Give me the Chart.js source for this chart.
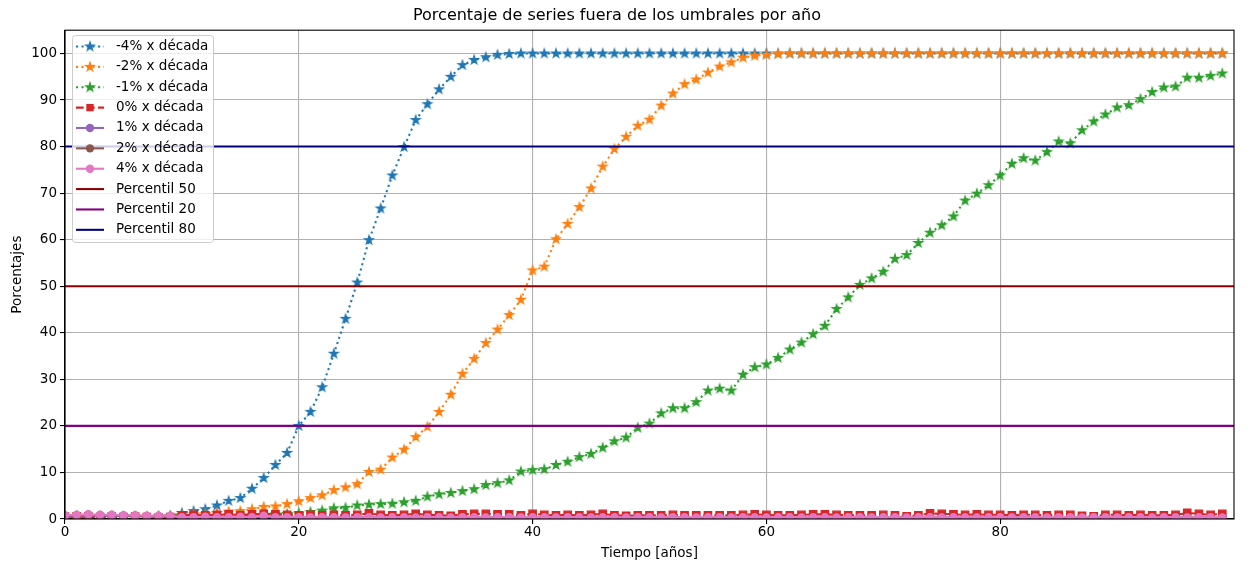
<!DOCTYPE html>
<html lang="es">
<head>
<meta charset="utf-8">
<title>Porcentaje de series fuera de los umbrales por año</title>
<script src="https://cdn.jsdelivr.net/npm/chart.js@4.4.1/dist/chart.umd.min.js"></script>
<style>
    body { margin: 0; background: #ffffff; }
    #contenedor { width: 1253px; height: 564px; }
</style>
</head>
<body>
<div id="contenedor"><canvas id="grafico-umbrales" width="1253" height="564"></canvas></div>
<script>
// Años (eje x)
const anios = Array.from({ length: 100 }, (_, i) => i);

// Porcentaje de series fuera de los umbrales por tendencia
const serieMenos4 = [
    0.5, 0.6, 0.6, 0.5, 0.6, 0.5, 0.5, 0.4, 0.5, 0.6,
    1.3, 1.7, 2.1, 2.9, 3.9, 4.5, 6.5, 8.8, 11.6, 14.2,
    20.0, 23.0, 28.3, 35.5, 43.0, 50.8, 59.9, 66.7, 73.8, 79.9,
    85.7, 89.1, 92.3, 95.0, 97.5, 98.6, 99.2, 99.7, 99.9, 100,
    100, 100, 100, 100, 100, 100, 100, 100, 100, 100,
    100, 100, 100, 100, 100, 100, 100, 100, 100, 100,
    100, 100, 100, 100, 100, 100, 100, 100, 100, 100,
    100, 100, 100, 100, 100, 100, 100, 100, 100, 100,
    100, 100, 100, 100, 100, 100, 100, 100, 100, 100,
    100, 100, 100, 100, 100, 100, 100, 100, 100, 100
];
const serieMenos2 = [
    0.4, 0.5, 0.5, 0.4, 0.5, 0.4, 0.5, 0.4, 0.5, 0.6,
    0.8, 1.0, 1.1, 1.3, 1.6, 1.7, 2.1, 2.6, 2.7, 3.2,
    3.8, 4.5, 5.1, 6.2, 6.8, 7.5, 10.1, 10.6, 13.2, 14.9,
    17.6, 19.8, 23.0, 26.7, 31.2, 34.4, 37.8, 40.7, 43.8, 47.1,
    53.4, 54.2, 60.1, 63.4, 67.0, 71.0, 75.7, 79.5, 82.1, 84.5,
    85.8, 88.8, 91.4, 93.4, 94.4, 95.9, 97.2, 98.1, 99.1, 99.5,
    99.7, 99.9, 100, 100, 100, 100, 100, 100, 100, 100,
    100, 100, 100, 100, 100, 100, 100, 100, 100, 100,
    100, 100, 100, 100, 100, 100, 100, 100, 100, 100,
    100, 100, 100, 100, 100, 100, 100, 100, 100, 100
];
const serieMenos1 = [
    0.4, 0.5, 0.4, 0.5, 0.4, 0.5, 0.4, 0.4, 0.5, 0.5,
    0.6, 0.6, 0.7, 0.6, 0.7, 0.8, 0.8, 0.9, 1.0, 1.1,
    1.2, 1.5, 1.8, 2.3, 2.4, 2.9, 3.1, 3.2, 3.3, 3.6,
    3.9, 4.8, 5.3, 5.6, 6.0, 6.4, 7.3, 7.7, 8.3, 10.2,
    10.5, 10.7, 11.6, 12.3, 13.3, 14.0, 15.3, 16.7, 17.5, 19.6,
    20.5, 22.7, 23.8, 23.8, 25.1, 27.6, 28.0, 27.6, 31.0, 32.6,
    33.2, 34.6, 36.4, 37.9, 39.7, 41.5, 45.1, 47.6, 50.3, 51.7,
    53.1, 55.9, 56.7, 59.3, 61.5, 63.1, 65.0, 68.4, 69.9, 71.7,
    73.8, 76.3, 77.5, 77.0, 78.8, 81.1, 80.7, 83.5, 85.4, 86.9,
    88.4, 88.9, 90.2, 91.7, 92.7, 92.9, 94.8, 94.8, 95.2, 95.7
];
const serie0 = [
    0.5, 0.6, 0.5, 0.4, 0.5, 0.4, 0.5, 0.4, 0.3, 0.4,
    0.8, 0.9, 0.8, 0.9, 1.0, 0.8, 1.0, 1.1, 1.0, 0.9,
    0.8, 0.9, 0.8, 0.9, 0.8, 0.9, 1.2, 0.9, 0.8, 0.9,
    1.1, 0.9, 0.8, 0.7, 1.0, 1.1, 1.1, 1.0, 1.0, 0.8,
    1.1, 0.9, 0.8, 0.9, 0.8, 0.9, 1.1, 0.8, 0.7, 0.8,
    0.8, 0.8, 0.9, 0.8, 0.8, 0.8, 0.8, 0.8, 0.9, 1.0,
    0.9, 0.8, 0.8, 0.9, 1.0, 1.0, 0.9, 0.8, 0.8, 0.8,
    0.9, 0.8, 0.6, 0.8, 1.2, 1.1, 1.0, 0.9, 1.0, 0.9,
    0.9, 0.8, 0.9, 0.9, 0.8, 0.9, 0.9, 0.7, 0.6, 0.9,
    0.9, 0.8, 0.9, 0.8, 0.8, 0.9, 1.3, 1.1, 0.9, 1.1
];
const serie1 = [
    0.6, 0.7, 0.8, 0.7, 0.7, 0.6, 0.6, 0.5, 0.5, 0.5,
    0.3, 0.3, 0.4, 0.3, 0.3, 0.4, 0.3, 0.5, 0.3, 0.3,
    0.3, 0.3, 0.2, 0.3, 0.3, 0.2, 0.3, 0.3, 0.2, 0.3,
    0.2, 0.3, 0.2, 0.2, 0.3, 0.2, 0.3, 0.2, 0.2, 0.3,
    0.2, 0.2, 0.3, 0.2, 0.2, 0.3, 0.2, 0.2, 0.2, 0.3,
    0.2, 0.2, 0.3, 0.2, 0.2, 0.2, 0.3, 0.2, 0.2, 0.2,
    0.3, 0.2, 0.2, 0.2, 0.3, 0.2, 0.2, 0.2, 0.3, 0.2,
    0.2, 0.3, 0.2, 0.2, 0.2, 0.3, 0.2, 0.2, 0.3, 0.2,
    0.2, 0.2, 0.3, 0.2, 0.2, 0.2, 0.3, 0.2, 0.2, 0.2,
    0.3, 0.2, 0.2, 0.2, 0.3, 0.2, 0.2, 0.3, 0.2, 0.2
];
const serie2 = [
    0.7, 0.8, 0.9, 0.8, 0.8, 0.7, 0.7, 0.6, 0.6, 0.6,
    0.4, 0.3, 0.4, 0.4, 0.3, 0.4, 0.4, 0.6, 0.3, 0.4,
    0.3, 0.3, 0.3, 0.3, 0.3, 0.3, 0.3, 0.3, 0.3, 0.3,
    0.3, 0.3, 0.3, 0.3, 0.3, 0.3, 0.3, 0.3, 0.3, 0.3,
    0.3, 0.3, 0.3, 0.3, 0.3, 0.3, 0.3, 0.3, 0.3, 0.3,
    0.3, 0.3, 0.3, 0.3, 0.3, 0.3, 0.3, 0.3, 0.3, 0.3,
    0.3, 0.3, 0.3, 0.3, 0.3, 0.3, 0.3, 0.3, 0.3, 0.3,
    0.3, 0.3, 0.3, 0.3, 0.3, 0.3, 0.3, 0.3, 0.3, 0.3,
    0.3, 0.3, 0.3, 0.3, 0.3, 0.3, 0.3, 0.3, 0.3, 0.3,
    0.3, 0.3, 0.3, 0.3, 0.3, 0.3, 0.3, 0.3, 0.3, 0.3
];
const serie4 = [
    0.8, 0.9, 1.0, 0.9, 0.9, 0.8, 0.8, 0.7, 0.7, 0.7,
    0.4, 0.4, 0.5, 0.4, 0.4, 0.5, 0.4, 0.7, 0.4, 0.4,
    0.4, 0.3, 0.4, 0.4, 0.3, 0.4, 0.4, 0.3, 0.4, 0.4,
    0.3, 0.4, 0.4, 0.3, 0.4, 0.4, 0.3, 0.4, 0.4, 0.3,
    0.4, 0.4, 0.3, 0.4, 0.4, 0.3, 0.4, 0.4, 0.3, 0.4,
    0.4, 0.3, 0.4, 0.4, 0.3, 0.4, 0.4, 0.3, 0.4, 0.4,
    0.3, 0.4, 0.4, 0.3, 0.4, 0.4, 0.3, 0.4, 0.4, 0.3,
    0.4, 0.4, 0.3, 0.4, 0.4, 0.3, 0.4, 0.4, 0.3, 0.4,
    0.4, 0.3, 0.4, 0.4, 0.3, 0.4, 0.4, 0.3, 0.4, 0.4,
    0.3, 0.4, 0.4, 0.3, 0.4, 0.4, 0.3, 0.4, 0.4, 0.3
];

// Umbrales horizontales
const percentiles = [50, 20, 80];
const etiquetasPercentil = ['Percentil 50', 'Percentil 20', 'Percentil 80'];
const coloresPercentil = ['#8b0000', '#800080', '#000080'];

// Ticks de los ejes
const ticksX = [0, 20, 40, 60, 80];
const ticksY = [0, 10, 20, 30, 40, 50, 60, 70, 80, 90, 100];

document.addEventListener('DOMContentLoaded', function() {
    Chart.defaults.font.family = "'DejaVu Sans', sans-serif";
    Chart.defaults.color = '#000000';

    const GROSOR = 2.08;       // 1.5 pt
    const PUNTEADO = [GROSOR * 1, GROSOR * 1.65];
    const DISCONTINUO = [GROSOR * 3.7, GROSOR * 1.6];

    // Marcador estrella rellena (como '*' de matplotlib)
    function crearEstrella(color) {
        const c = document.createElement('canvas');
        c.width = 14;
        c.height = 14;
        const g = c.getContext('2d');
        const r = 4.4, ri = r * 0.382;
        g.beginPath();
        for (let k = 0; k < 10; k++) {
            const ang = -Math.PI / 2 + k * Math.PI / 5;
            const rr = k % 2 === 0 ? r : ri;
            const px = 7 + rr * Math.cos(ang), py = 7 + rr * Math.sin(ang);
            if (k === 0) g.moveTo(px, py); else g.lineTo(px, py);
        }
        g.closePath();
        g.fillStyle = color;
        g.strokeStyle = color;
        g.lineWidth = 1.3;
        g.lineJoin = 'miter';
        g.fill();
        g.stroke();
        return c;
    }

    function serieDatos(etiqueta, datos, color, estilo) {
        const ds = {
            label: etiqueta,
            data: datos,
            borderColor: color,
            backgroundColor: color,
            borderWidth: GROSOR,
            fill: false,
            tension: 0,
            clip: 0,
            pointBorderWidth: 1.3,
            pointBorderColor: color,
            pointBackgroundColor: color
        };
        if (estilo === 'estrella') {
            ds.borderDash = PUNTEADO;
            ds.pointStyle = crearEstrella(color);
            ds.pointRadius = 4;
        } else if (estilo === 'cuadrado') {
            ds.borderDash = DISCONTINUO;
            ds.pointStyle = 'rect';
            ds.pointRadius = 5.2;
        } else {
            ds.pointStyle = 'circle';
            ds.pointRadius = 3.6;
        }
        return ds;
    }

    const datasets = [
        serieDatos('-4% x década', serieMenos4, '#1f77b4', 'estrella'),
        serieDatos('-2% x década', serieMenos2, '#ff7f0e', 'estrella'),
        serieDatos('-1% x década', serieMenos1, '#2ca02c', 'estrella'),
        serieDatos('0% x década', serie0, '#d62728', 'cuadrado'),
        serieDatos('1% x década', serie1, '#9467bd', 'circulo'),
        serieDatos('2% x década', serie2, '#8c564b', 'circulo'),
        serieDatos('4% x década', serie4, '#e377c2', 'circulo')
    ];

    percentiles.forEach(function(p, i) {
        datasets.push({
            label: etiquetasPercentil[i],
            data: [{ x: 0, y: p }, { x: 100, y: p }],
            borderColor: coloresPercentil[i],
            backgroundColor: coloresPercentil[i],
            borderWidth: GROSOR,
            pointRadius: 0,
            fill: false,
            clip: 0
        });
    });

    // Los últimos en la lista se dibujan encima (como matplotlib)
    datasets.forEach(function(ds, i) { ds.order = datasets.length - i; });

    // Marco completo de los ejes
    const marcoPlugin = {
        id: 'marco',
        afterDatasetsDraw(chart) {
            const a = chart.chartArea;
            const ctx = chart.ctx;
            ctx.save();
            ctx.strokeStyle = '#000000';
            ctx.lineWidth = 1.1;
            ctx.strokeRect(a.left, a.top, a.right - a.left, a.bottom - a.top);
            ctx.restore();
        }
    };

    // Leyenda al estilo matplotlib (línea + marcador)
    const leyendaPlugin = {
        id: 'leyendaLineas',
        afterDraw(chart) {
            const ctx = chart.ctx;
            const x0 = 72.5, y0 = 35.5, w = 141, h = 207, rad = 3;
            ctx.save();
            ctx.beginPath();
            ctx.moveTo(x0 + rad, y0);
            ctx.arcTo(x0 + w, y0, x0 + w, y0 + h, rad);
            ctx.arcTo(x0 + w, y0 + h, x0, y0 + h, rad);
            ctx.arcTo(x0, y0 + h, x0, y0, rad);
            ctx.arcTo(x0, y0, x0 + w, y0, rad);
            ctx.closePath();
            ctx.fillStyle = 'rgba(255,255,255,0.8)';
            ctx.fill();
            ctx.strokeStyle = '#cccccc';
            ctx.lineWidth = 1;
            ctx.stroke();

            chart.data.datasets.forEach(function(ds, i) {
                const y = 46.5 + i * 20.37;
                ctx.beginPath();
                ctx.setLineDash(ds.borderDash || []);
                ctx.strokeStyle = ds.borderColor;
                ctx.lineWidth = ds.borderWidth;
                ctx.moveTo(76, y);
                ctx.lineTo(104, y);
                ctx.stroke();
                ctx.setLineDash([]);

                if (ds.pointRadius > 0) {
                    const est = ds.pointStyle;
                    ctx.fillStyle = ds.borderColor;
                    if (est instanceof HTMLCanvasElement) {
                        ctx.drawImage(est, 90 - est.width / 2, y - est.height / 2);
                    } else if (est === 'rect') {
                        const s = Math.SQRT1_2 * ds.pointRadius;
                        ctx.fillRect(90 - s, y - s, 2 * s, 2 * s);
                    } else {
                        ctx.beginPath();
                        ctx.arc(90, y, ds.pointRadius + 0.6, 0, Math.PI * 2);
                        ctx.fill();
                    }
                }

                ctx.fillStyle = '#000000';
                ctx.font = "13.5px 'DejaVu Sans', sans-serif";
                ctx.textBaseline = 'middle';
                ctx.textAlign = 'left';
                ctx.fillText(ds.label, 116, y);
            });
            ctx.restore();
        }
    };

    const ctx = document.getElementById('grafico-umbrales').getContext('2d');
    new Chart(ctx, {
        type: 'line',
        data: {
            labels: anios,
            datasets: datasets
        },
        options: {
            responsive: false,
            animation: false,
            layout: {
                padding: { left: 0, right: 19, top: 0, bottom: 0 }
            },
            plugins: {
                legend: { display: false },
                tooltip: { enabled: false },
                title: {
                    display: true,
                    text: 'Porcentaje de series fuera de los umbrales por año',
                    font: { size: 16, weight: 'normal' },
                    color: '#000000',
                    padding: { top: 6, bottom: 5 }
                }
            },
            scales: {
                x: {
                    type: 'linear',
                    min: 0,
                    max: 100,
                    afterBuildTicks: function(scale) {
                        scale.ticks = ticksX.map(v => ({ value: v }));
                    },
                    afterFit: function(scale) { scale.height = 45; },
                    ticks: {
                        font: { size: 13.5 },
                        color: '#000000',
                        padding: 0,
                        maxRotation: 0
                    },
                    grid: {
                        color: '#b0b0b0',
                        lineWidth: 1.1,
                        tickColor: '#000000',
                        tickLength: 5
                    },
                    border: { color: '#000000', width: 1.1 },
                    title: {
                        display: true,
                        text: 'Tiempo [años]',
                        font: { size: 13.5 },
                        color: '#000000',
                        padding: { top: 0, bottom: 2 }
                    }
                },
                y: {
                    type: 'linear',
                    min: 0,
                    max: 105,
                    afterBuildTicks: function(scale) {
                        scale.ticks = ticksY.map(v => ({ value: v }));
                    },
                    afterFit: function(scale) { scale.width = 65; },
                    ticks: {
                        font: { size: 13.5 },
                        color: '#000000',
                        padding: 3
                    },
                    grid: {
                        color: '#b0b0b0',
                        lineWidth: 1.1,
                        tickColor: '#000000',
                        tickLength: 5
                    },
                    border: { color: '#000000', width: 1.1 },
                    title: {
                        display: true,
                        text: 'Porcentajes',
                        font: { size: 13.5 },
                        color: '#000000',
                        padding: { top: 9, bottom: 0 }
                    }
                }
            }
        },
        plugins: [marcoPlugin, leyendaPlugin]
    });
});
</script>
</body>
</html>
